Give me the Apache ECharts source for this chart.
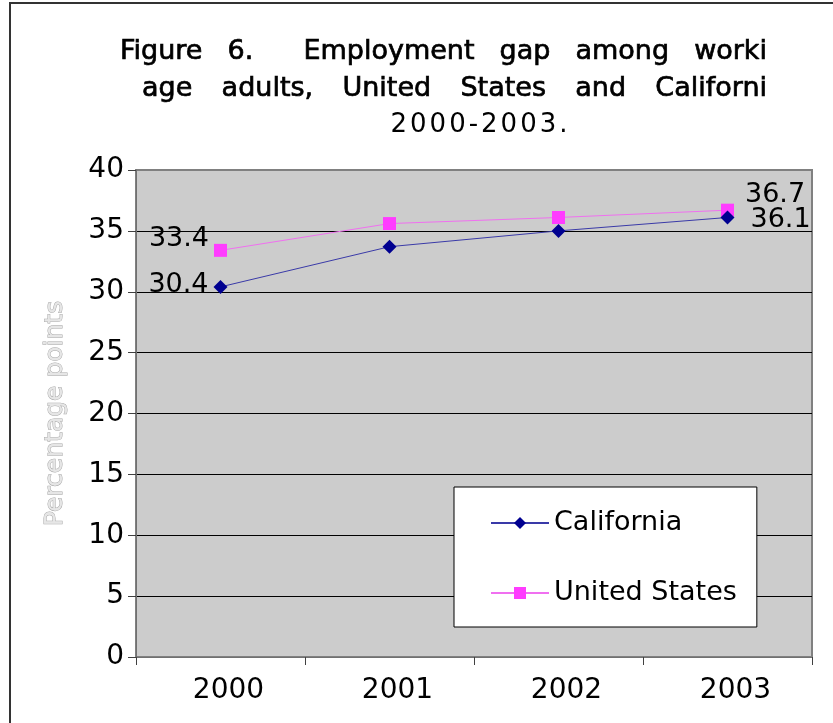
<!DOCTYPE html>
<html>
<head>
<meta charset="utf-8">
<script src="https://cdn.jsdelivr.net/npm/echarts@6/dist/echarts.min.js"></script>
<style>
  html, body { margin: 0; padding: 0; background: #ffffff; }
  #chart { width: 833px; height: 723px; }
</style>
</head>
<body>
<div id="chart"></div>
<script>
// ---- chart data ----
const years = ['2000', '2001', '2002', '2003'];
const california = [30.4, 33.7, 35.0, 36.1];
const unitedStates = [33.4, 35.6, 36.1, 36.7];
const seriesNames = ['California', 'United States'];
const yMin = 0;
const yMax = 40;
const yStep = 5;
const yAxisTitle = 'Percentage points';
const titleLines = [
  'Figure 6.  Employment gap among worki',
  'age adults, United States and Californi',
  '2000-2003.'
];

// ---- styling ----
const FONT = '"DejaVu Sans", Verdana, sans-serif';
const TEXT_SIZE = 27;

const measureCtx = document.createElement('canvas').getContext('2d');
function textWidth(t, font) {
  measureCtx.font = font;
  return measureCtx.measureText(t).width;
}

// Lay out a title line word by word, spreading the spaces so the line
// runs from `left` to `right` (justified text). `heavy` adds a thin
// outline so the strokes read a little darker than the plain face.
function justifiedLine(text, left, right, y, font, heavy) {
  const tokens = text.split(' ');
  const words = [];
  let pending = 0, units = 0, used = 0;
  tokens.forEach((t, i) => {
    if (i > 0) { pending++; }
    if (t) {
      const w = textWidth(t, font);
      words.push({ t, gaps: words.length ? pending : 0, w });
      if (words.length > 1) units += pending;
      used += w;
      pending = 0;
    }
  });
  const unit = units ? (right - left - used) / units : 0;
  let x = left;
  return words.map(wd => {
    x += wd.gaps * unit;
    const el = {
      type: 'text', x: x, y: y,
      style: { text: wd.t, font: font, fill: '#000',
               stroke: heavy ? '#000' : null, lineWidth: heavy ? 0.7 : 0,
               textAlign: 'left', textVerticalAlign: 'middle' }
    };
    x += wd.w;
    return el;
  });
}

// A centred line drawn with a little extra space between characters.
function spacedLine(text, cx, y, font, spacing) {
  const chars = text.split('');
  const widths = chars.map(c => textWidth(c, font));
  const total = widths.reduce((a, b) => a + b, 0) + spacing * (chars.length - 1);
  let x = cx - total / 2;
  return chars.map((c, i) => {
    const el = {
      type: 'text', x: x, y: y,
      style: { text: c, font: font, fill: '#000',
               textAlign: 'left', textVerticalAlign: 'middle' }
    };
    x += widths[i] + spacing;
    return el;
  });
}

// Only the first and last points of each line carry a value label.
function withEndLabels(values, first, last) {
  return values.map((v, i) => {
    if (i === 0) return { value: v, label: Object.assign({ show: true }, first) };
    if (i === values.length - 1) return { value: v, label: Object.assign({ show: true }, last) };
    return v;
  });
}

const valueLabel = {
  show: false,
  fontFamily: FONT,
  fontSize: TEXT_SIZE,
  color: '#000',
  formatter: p => Number(p.value).toFixed(1)
};

const titleFont = '27px ' + FONT;
const yearFont = '26px ' + FONT;

const chart = echarts.init(document.getElementById('chart'), null, { renderer: 'canvas' });

const option = {
  backgroundColor: '#ffffff',
  animation: false,
  textStyle: { fontFamily: FONT },
  grid: {
    left: 136, right: 21, top: 170, bottom: 66,
    show: true,
    backgroundColor: '#cccccc',
    borderColor: '#808080',
    borderWidth: 2
  },
  legend: {
    data: seriesNames,
    orient: 'vertical',
    left: 454,
    top: 487,
    padding: [21, 20, 19, 36],
    itemWidth: 58,
    itemHeight: 15,
    itemGap: 40,
    backgroundColor: '#ffffff',
    borderColor: '#000000',
    borderWidth: 1,
    textStyle: { fontFamily: FONT, fontSize: TEXT_SIZE, color: '#000', lineHeight: 30 }
  },
  xAxis: {
    type: 'category',
    data: years,
    boundaryGap: true,
    axisLine: { lineStyle: { color: '#707070', width: 1 } },
    axisTick: { show: true, length: 8, lineStyle: { color: '#404040' } },
    axisLabel: {
      fontFamily: FONT, fontSize: 28, color: '#000',
      margin: 20, padding: [0, 0, 0, 16]
    },
    splitLine: { show: false }
  },
  yAxis: {
    type: 'value',
    min: yMin, max: yMax, interval: yStep,
    name: yAxisTitle,
    nameLocation: 'middle',
    nameRotate: 90,
    nameGap: 68,
    nameTextStyle: {
      fontFamily: FONT, fontSize: 25,
      color: '#e6e6e6', textBorderColor: '#a8a8a8', textBorderWidth: 1
    },
    axisLine: { show: true, lineStyle: { color: '#707070', width: 1 } },
    axisTick: { show: true, length: 8, lineStyle: { color: '#404040' } },
    axisLabel: { fontFamily: FONT, fontSize: 28, color: '#000', margin: 12 },
    splitLine: {
      show: true, showMinLine: false, showMaxLine: false,
      lineStyle: { color: '#000000', width: 1 }
    }
  },
  series: [
    {
      name: seriesNames[0],
      type: 'line',
      data: withEndLabels(california,
        { position: 'left', distance: 5, offset: [0, -2] },
        { position: 'right', distance: 16, offset: [0, 3] }),
      symbol: 'diamond',
      symbolSize: 14,
      itemStyle: { color: '#000090' },
      lineStyle: { color: '#3a3aa8', width: 1 },
      label: valueLabel,
      z: 3
    },
    {
      name: seriesNames[1],
      type: 'line',
      data: withEndLabels(unitedStates,
        { position: 'left', distance: 5, offset: [0, -11] },
        { position: 'right', distance: 11, offset: [0, -15] }),
      symbol: 'rect',
      symbolSize: 13,
      itemStyle: { color: '#ff3cff' },
      lineStyle: { color: '#f070f0', width: 1 },
      label: valueLabel,
      z: 2
    }
  ],
  graphic: [
    // page frame along the left and top edges
    {
      type: 'polyline',
      shape: { points: [[10, 723], [10, 3], [833, 3]] },
      style: { stroke: '#333333', lineWidth: 2, fill: null },
      silent: true
    }
  ]
    .concat(justifiedLine(titleLines[0], 120, 767, 52, titleFont, true))
    .concat(justifiedLine(titleLines[1], 142, 767, 89, titleFont, true))
    .concat(spacedLine(titleLines[2], 479, 125, yearFont, 3))
};

chart.setOption(option);
</script>
</body>
</html>
